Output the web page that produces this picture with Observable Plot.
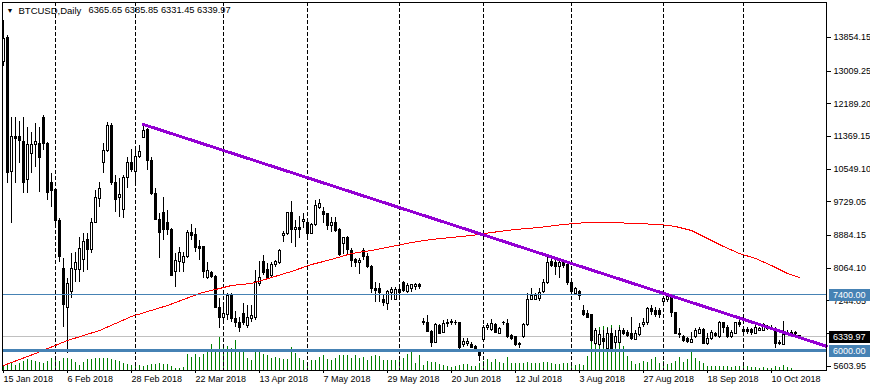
<!DOCTYPE html>
<html>
<head>
<meta charset="utf-8">
<script src="https://cdn.jsdelivr.net/npm/d3@7"></script>
<script src="https://cdn.jsdelivr.net/npm/@observablehq/plot@0.6"></script>
<style>
html,body{margin:0;padding:0;background:#fff;}
#chart{width:870px;height:390px;overflow:hidden;}
#chart svg rect, #chart svg line, #chart svg path{shape-rendering:crispEdges;}
</style>
</head>
<body>
<div id="chart"></div>
<script>
// BTCUSD daily bars (weekdays), 15 Jan 2018 .. 19 Oct 2018
const open = [
13227,13853,10467,11369,11369,11244,10266,10943,11169,11194,
11846,11194,10191,10015,9262,8033,7079,7456,8008,8008,
8259,8785,8510,9212,9814,10693,11018,11645,10191,9839,
9538,10316,10693,10467,10843,11344,11545,10743,9915,9287,
9438,9212,9036,7958,8209,8184,8334,8961,8886,8585,
8585,7832,7933,7857,7079,6828,6879,7380,6803,6703,
6904,6603,6803,6828,7657,8209,8008,7882,8158,8184,
8861,8911,9438,9036,9086,9237,9212,8936,9137,9588,
9463,9413,9112,9212,9036,8685,8811,8485,8259,8184,
8485,8334,8083,7556,7531,7255,7155,7431,7280,7506,
7682,7456,7556,7582,7632,6678,6703,6477,6201,6603,
6452,6653,6678,6678,6678,6151,6176,6126,6100,5975,
6276,6577,6527,6628,6427,6678,6653,6352,6327,6176,
6327,6628,7280,7280,7305,7456,7682,8209,8184,8083,
8184,8158,7682,7406,7456,7004,6904,6879,6176,6126,
6301,6050,6427,6201,6201,6502,6452,6427,6276,6377,
6628,6678,7054,7004,7004,7205,7280,7380,6929,6427,
6327,6301,6201,6327,6427,6527,6176,6301,6402,6327,
6678,6577,6327,6427,6678,6527,6527,6527,6427,6502,
6502,6577,6577,6527,6176,6151,6402,6452,6452,6365.65];
const high = [
14280,13903,11846,11846,11746,11846,11595,11470,11696,11595,
11896,11219,10442,10065,9312,8309,7807,8435,8460,8835,
8936,8936,9312,10015,10216,11194,11721,11696,10391,10316,
10391,10843,11043,11118,11144,11671,11570,10843,10065,9438,
9839,9513,9061,8435,8585,8460,9011,9162,9061,8760,
8610,8209,7983,7882,7305,7180,7431,7431,6979,6828,
7180,7130,7130,8008,8234,8385,8184,8209,8259,8535,
8986,9463,9739,9262,9362,9438,9287,9187,9764,9789,
9588,9438,9337,9337,9061,8835,8861,8560,8309,8309,
8560,8435,8133,7707,7682,7380,7506,7582,7582,7632,
7732,7682,7657,7682,7682,6803,6879,6502,6678,6653,
6753,6778,6778,6753,6703,6301,6301,6201,6126,6000,
6628,6678,6778,6678,6577,6728,6778,6402,6352,6201,
6678,7431,7556,7431,7556,7782,8334,8385,8309,8259,
8234,8234,7707,7582,7506,7130,7004,6904,6552,6502,
6502,6552,6552,6502,6577,6552,6502,6828,6502,6678,
6803,7079,7130,7079,7054,7330,7431,7406,6954,6552,
6377,6327,6452,6552,6577,6552,6427,6502,6452,6728,
6703,6628,6502,6703,6828,6577,6577,6552,6628,6577,
6678,6628,6628,6577,6251,6728,6502,6502,6477,6385.85];
const low = [
13126,10191,9187,10191,10693,9940,9940,10442,10592,9965,
11018,9764,9588,9137,8209,6577,5925,7305,7707,7707,
7958,8008,8435,9187,9588,10442,10968,10141,9463,9337,
9312,10065,10467,10216,10818,11319,10517,9890,9262,8309,
8760,8886,7857,7582,7958,7958,8309,8760,8460,8259,
7807,7782,7807,7054,6552,6703,6753,6703,6577,6452,
6628,6552,6703,6753,7607,7882,7807,7832,8083,8158,
8710,8886,8685,8585,8811,9061,8811,8911,9112,9538,
9187,9011,8961,8961,8359,8410,8385,8083,8083,7908,
8259,8058,7431,7205,7205,7105,7004,7255,7255,7305,
7456,7431,7456,7506,7531,6628,6452,6075,6176,6402,
6427,6577,6628,6628,6000,6075,6100,6050,6000,5725,
6251,6502,6477,6427,6402,6628,6301,6251,6100,6050,
6301,6603,7255,7255,7230,7431,7657,8083,7882,7807,
8058,7632,7431,7380,7255,6854,6803,6201,6126,6100,
6050,6025,6000,6050,6176,6377,6327,6251,6251,6352,
6577,6628,6879,6828,6803,7180,7205,6828,6402,6301,
6201,6176,6176,6301,6402,6151,6126,6251,6327,6301,
6427,6301,6301,6402,6577,6427,6402,6377,6402,6477,
6477,6502,6502,6050,6126,6126,6377,6377,6352,6331.45];
const close = [
13828,10442,11369,11319,11269,10191,11169,11169,11244,10842,
11194,9940,9990,9262,8334,7130,7657,8033,8184,8535,
8735,8510,9212,9839,10040,11018,11645,10191,9764,9890,
10316,10693,10517,10843,10993,11520,10743,9915,9287,8961,
9036,9036,7882,8234,8435,8334,8961,8861,8560,8535,
7958,7983,7857,7079,6828,6904,7380,6803,6703,6577,
6703,6828,6854,7707,7832,7933,7832,8158,8209,8485,
8911,9438,9036,9086,9036,9287,8936,9137,9638,9664,
9388,9112,9212,9011,8385,8811,8510,8234,8184,8234,
8334,8083,7531,7481,7431,7180,7456,7506,7506,7431,
7481,7607,7632,7632,7582,6728,6477,6201,6628,6427,
6653,6703,6728,6703,6075,6226,6226,6075,6050,5875,
6577,6603,6653,6452,6552,6703,6327,6301,6126,6126,
6628,7280,7380,7380,7431,7682,8184,8133,8083,8184,
8133,7682,7456,7531,7380,6879,6828,6251,6502,6377,
6226,6427,6050,6327,6502,6427,6352,6301,6427,6577,
6703,7054,6954,6879,6879,7305,7355,6929,6427,6377,
6251,6226,6276,6502,6527,6176,6301,6452,6352,6678,
6577,6327,6452,6678,6628,6477,6477,6452,6577,6552,
6628,6552,6527,6176,6201,6377,6452,6427,6402,6339.97];
// tick volume, thousands
const tickVolumeK = [
5,6,7,5,7,9,11,10,9,8,
7,9,12,14,9,12,12,11,8,5,
8,11,11,12,12,12,12,11,10,9,
7,6,5,6,5,4,5,6,6,7,
6,6,4,2,2,3,16,13,16,13,
16,19,26,21,34,26,24,22,30,19,
18,12,10,18,18,16,15,12,13,12,
11,11,23,17,12,10,6,10,10,13,
15,11,10,12,15,15,15,12,15,12,
13,10,14,15,14,10,10,10,10,13,
12,16,19,7,15,5,9,8,8,6,
5,4,3,4,5,6,6,4,4,7,
9,11,8,11,8,7,13,7,7,7,
7,8,7,7,7,8,8,7,6,6,
7,7,6,5,6,5,14,45,39,43,
44,43,45,40,45,24,14,9,6,7,
9,8,11,13,7,9,6,7,9,13,
8,11,18,12,9,7,4,4,4,4,
4,4,3,4,4,4,4,3,3,2,
3,2,2,4,3,5,3,2,0,0];
// moving average (red) read at selected bars
const maBars   = [0,8,16,24,32,41,49,57,62,67,72,77,82,87,92,97,102,107,112,117,122,128,134,140,146,152,158,164,168,172,176,180,184,188,192,196,199];
const maValues = [5624,5925,6251,6502,6854,7130,7431,7631,7682,7832,7983,8158,8284,8434,8510,8610,8710,8786,8836,8886,8961,9037,9087,9162,9212,9212,9187,9162,9112,9011,8811,8610,8434,8309,8133,7933,7832];
// trend line (purple) from the 5 Mar high, extended to the right edge
const trendBars = [35, 205.75];
const trendPrices = [11671, 6106];
// horizontal levels
const levels = [7400, 6000];
const bid = 6339.97;
// month separators (first bar of each month)
const separatorBars = [13,33,55,76,99,120,142,165,185];
// axis ticks
const dateTickBars = [0,16,32,48,64,80,96,112,128,144,160,176,192];
const dateTickLabels = ["15 Jan 2018","6 Feb 2018","28 Feb 2018","22 Mar 2018","13 Apr 2018","7 May 2018","29 May 2018","20 Jun 2018","12 Jul 2018","3 Aug 2018","27 Aug 2018","18 Sep 2018","10 Oct 2018"];
const priceTicks = [13854.15,13009.25,12189.20,11369.15,10549.10,9729.05,8884.15,8064.10,7244.05,6424.00,5603.95];
const symbolName = "BTCUSD,Daily";

const yDomain = [5498.7, 14731.8];
const xDomain = [-0.25, 205.75];
const volShare = 0.1223; // tallest volume bar as a share of the chart height
const volMax = d3.max(tickVolumeK);
const candles = open.map((o, i) => ({i, o, h: high[i], l: low[i], c: close[i], v: tickVolumeK[i]}));
const up = candles.filter(d => d.c >= d.o);
const down = candles.filter(d => d.c < d.o);
const ma = maBars.map((b, k) => ({b, v: maValues[k]}));
const trend = trendBars.map((b, k) => ({b, v: trendPrices[k]}));
const dateLabel = new Map(dateTickBars.map((b, k) => [b, dateTickLabels[k]]));
const last = candles[candles.length - 1];
const ohlcText = [last.o, last.h, last.l, last.c].map(v => v.toFixed(2)).join(" ");
const steel = "#4682b4";
const font = "'Liberation Sans', Arial, sans-serif";

const plot = Plot.plot({
  width: 870,
  height: 390,
  marginLeft: 2,
  marginRight: 44,
  marginTop: 2,
  marginBottom: 20,
  style: {fontFamily: font, fontSize: "9px", background: "#fff", color: "#000"},
  x: {type: "linear", domain: xDomain},
  y: {type: "linear", domain: yDomain},
  marks: [
    Plot.ruleX(candles, {x: "i", y1: yDomain[0], y2: d => yDomain[0] + d.v / volMax * volShare * (yDomain[1] - yDomain[0]), stroke: "#008000", strokeWidth: 1}),
    Plot.ruleX(separatorBars, {stroke: "#000", strokeWidth: 1, strokeDasharray: "4,2"}),
    Plot.ruleY([bid], {stroke: "#c0c0c0", strokeWidth: 1}),
    Plot.ruleX(candles, {x: "i", y1: "l", y2: "h", stroke: "#000", strokeWidth: 1}),
    Plot.rect(up, {x1: d => d.i - 0.25, x2: d => d.i + 0.25, y1: "o", y2: "c", fill: "#fff", stroke: "#000", strokeWidth: 1}),
    Plot.rect(down, {x1: d => d.i - 0.25, x2: d => d.i + 0.25, y1: "o", y2: "c", fill: "#000", stroke: "#000", strokeWidth: 1}),
    Plot.line(ma, {x: "b", y: "v", stroke: "#ff0000", strokeWidth: 1}),
    Plot.ruleY([levels[0]], {stroke: steel, strokeWidth: 1}),
    Plot.ruleY([levels[1]], {stroke: steel, strokeWidth: 3}),
    Plot.line(trend, {x: "b", y: "v", stroke: "#9400d3", strokeWidth: 3}),
    Plot.frame({stroke: "#000"}),
    Plot.axisY({anchor: "right", ticks: priceTicks, tickFormat: d => d.toFixed(2), tickSize: 4, tickPadding: 3, fontSize: 9}),
    Plot.axisX({anchor: "bottom", ticks: dateTickBars, tickFormat: d => dateLabel.get(d), tickSize: 3, tickPadding: 2, textAnchor: "start", fontSize: 9}),
    Plot.text(["\u25BC"], {frameAnchor: "top-left", text: d => d, dx: 7.5, dy: 8.5, fontSize: 7, textAnchor: "middle", lineAnchor: "middle", fill: "#000"}),
    Plot.text([symbolName], {frameAnchor: "top-left", text: d => d, dx: 16, dy: 8, fontSize: 9.5, textAnchor: "start", lineAnchor: "middle", fill: "#000"}),
    Plot.text([ohlcText], {frameAnchor: "top-left", text: d => d, dx: 86, dy: 8, fontSize: 9.3, textAnchor: "start", lineAnchor: "middle", fill: "#000"})
  ]
});

// price labels on the right axis for the horizontal levels and the bid
const ys = plot.scale("y");
const xs = plot.scale("x");
const svg = d3.select(plot);
const boxLeft = xs.range[1] + 3;
const boxes = [
  {v: levels[0], fill: steel, label: levels[0].toFixed(2)},
  {v: levels[1], fill: steel, label: levels[1].toFixed(2)},
  {v: bid, fill: "#000", label: bid.toFixed(2)}
];
const g = svg.append("g").attr("text-anchor", "start");
for (const b of boxes) {
  const cy = ys.apply(b.v) + 0.5;
  g.append("rect").attr("x", boxLeft).attr("y", Math.round(cy - 6)).attr("width", 870 - boxLeft).attr("height", 12).attr("fill", b.fill);
  g.append("text").attr("x", boxLeft + 4).attr("y", cy).attr("dy", "0.35em").attr("fill", "#fff")
    .attr("text-anchor", "start").attr("font-size", 9).attr("font-family", font).text(b.label);
}
document.getElementById("chart").appendChild(plot);
</script>
</body>
</html>
